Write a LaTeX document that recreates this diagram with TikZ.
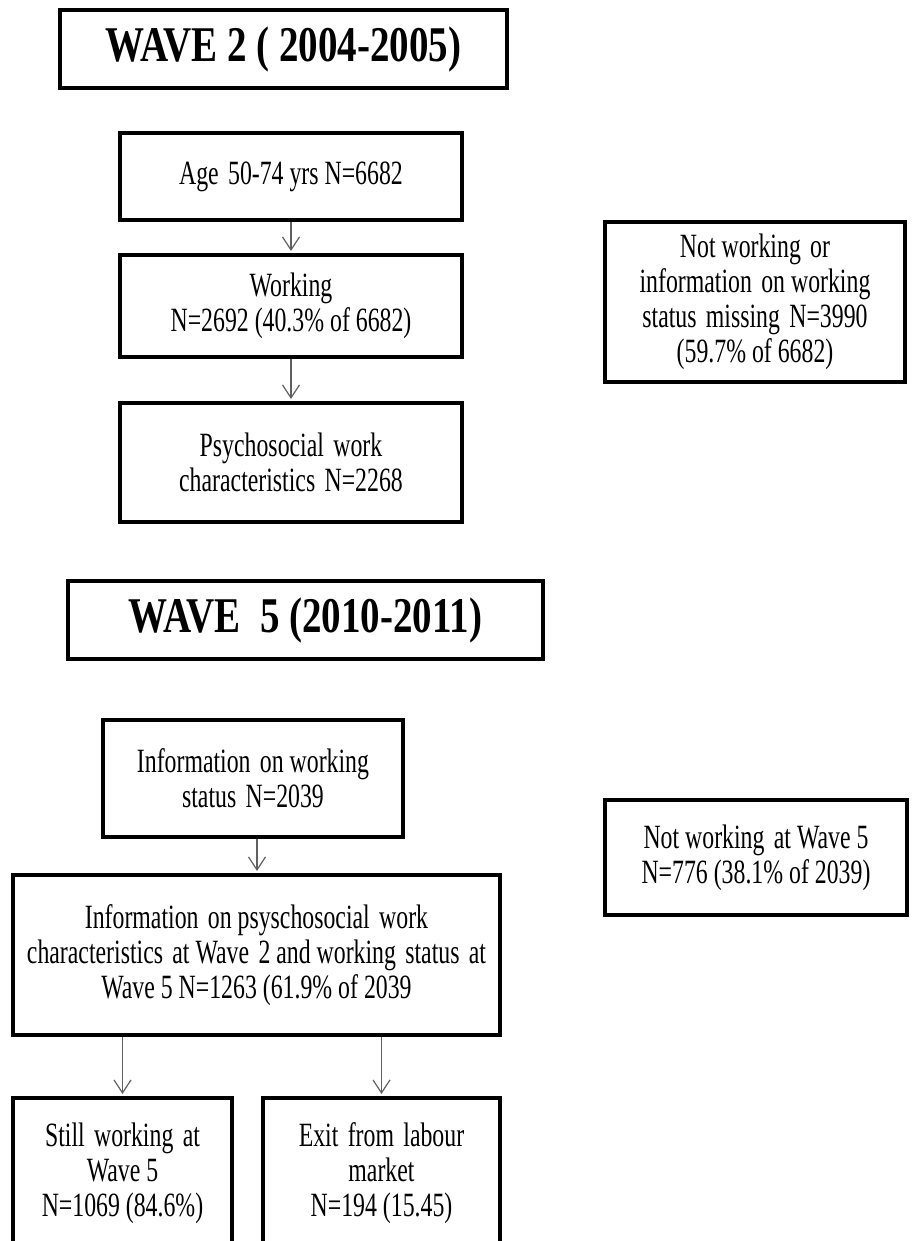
\documentclass[tikz,border=0pt]{standalone}
\usepackage{fontspec}
\setmainfont{Liberation Serif}[FakeStretch=0.7]
\newfontfamily\titlefont{Liberation Serif}[FakeStretch=0.78]
\usetikzlibrary{arrows.meta}
\definecolor{arrowgray}{HTML}{606060}
\newcommand{\wsp}{\ \hspace{0.1em}}
\tikzset{
  box/.style={draw=black, line width=4pt, rectangle, align=center, inner sep=0pt,
    font=\fontsize{34}{35}\selectfont},
  titlebox/.style={draw=black, line width=4pt, rectangle, align=center, inner sep=0pt,
    font=\titlefont\bfseries\fontsize{50}{50}\selectfont},
  flow/.style={draw=arrowgray, line width=1.2pt, -{Straight Barb[length=13pt,width=17pt,line width=1.2pt]}, shorten >=2pt}
}
\begin{document}
\begin{tikzpicture}[x=1pt,y=-1pt]
\useasboundingbox (0,0) rectangle (911,1241);
% Wave 2
\node[titlebox, minimum width=447, minimum height=78] (w2) at (283.5,49) {WAVE 2 ( 2004-2005)};
\node[box, minimum width=342, minimum height=87] (age) at (291,176.5) {Age\wsp 50-74 yrs N=6682};
\node[box, minimum width=342, minimum height=102] (work) at (291,306) {Working\\N=2692 (40.3\% of 6682)};
\node[box, minimum width=342, minimum height=119] (psych) at (291,462.5) {Psychosocial\wsp work\\characteristics\wsp N=2268};
\node[box, minimum width=300, minimum height=160] (notw) at (755,302) {Not working\wsp or\\information\wsp on working\\status\wsp missing\wsp N=3990\\(59.7\% of 6682)};
% Wave 5
\node[titlebox, minimum width=475, minimum height=78] (w5) at (305.5,620) {WAVE\ \ 5 (2010-2011)};
\node[box, minimum width=300, minimum height=117] (info) at (253,778.5) {Information\wsp on working\\status\wsp N=2039};
\node[box, minimum width=487, minimum height=160] (big) at (256.5,955) {Information\wsp on psyschosocial\wsp work\\characteristics\wsp at Wave\wsp 2 and working\wsp status\wsp at\\Wave 5 N=1263 (61.9\% of 2039};
\node[box, minimum width=302, minimum height=115] (notw5) at (756,857.5) {Not working\wsp at Wave 5\\N=776 (38.1\% of 2039)};
\node[box, minimum width=219, minimum height=150] (still) at (122.5,1173) {Still\wsp working\wsp at\\Wave 5\\N=1069 (84.6\%)};
\node[box, minimum width=237, minimum height=150] (exit) at (381.5,1173) {Exit\wsp from\wsp labour\\market\\N=194 (15.45)};
% connectors
\coordinate (bt) at (257,0);
\draw[flow] (age.south) -- (work.north);
\draw[flow] (work.south) -- (psych.north);
\draw[flow] (info.south -| bt) -- (big.north -| bt);
\draw[flow] (big.south -| still.north) -- (still.north);
\draw[flow] (big.south -| exit.north) -- (exit.north);
\end{tikzpicture}
\end{document}
